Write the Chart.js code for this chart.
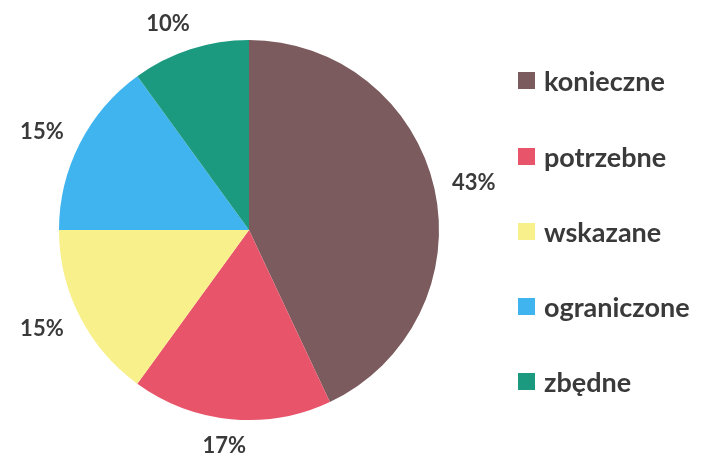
<!DOCTYPE html>
<html>
<head>
<meta charset="utf-8">
<script src="https://cdn.jsdelivr.net/npm/chart.js@4"></script>
<style>
  body { margin: 0; background: #fff; }
  #wrap { position: relative; width: 719px; height: 462px; }
  #legend { position: absolute; left: 518px; top: 0; font-family: Lato, "Open Sans", sans-serif; font-weight: bold; font-size: 27px; color: #3a3a3a; }
  .item { position: absolute; white-space: nowrap; display: flex; align-items: center; }
  .box { width: 17px; height: 17px; margin-right: 9px; }
</style>
</head>
<body>
<div id="wrap">
  <canvas id="chart" width="719" height="462"></canvas>
  <div id="legend"></div>
</div>
<script>
// categories and shares (%)
let categories = ["konieczne", "potrzebne", "wskazane", "ograniczone", "zbędne"];
let shares = [43, 17, 15, 15, 10];
let sliceColors = ["#7b5b5e", "#e8546a", "#f8f08a", "#3fb4ef", "#1c9a80"];

// Draw percent labels just outside each slice
const outsideLabels = {
    id: 'outsideLabels',
    afterDatasetsDraw(chart) {
        let ctx = chart.ctx;
        let meta = chart.getDatasetMeta(0);
        ctx.save();
        ctx.font = 'bold 22px Lato, "Open Sans", sans-serif';
        ctx.fillStyle = '#3a3a3a';
        ctx.textAlign = 'center';
        ctx.textBaseline = 'middle';
        meta.data.forEach(function (arc, i) {
            let mid = (arc.startAngle + arc.endAngle) / 2;
            let dx = Math.cos(mid), dy = Math.sin(mid);
            let text = shares[i] + '%';
            let w = ctx.measureText(text).width;
            let r = arc.outerRadius + 18;
            let x = arc.x + dx * r + Math.sign(dx) * (w / 2) * Math.min(1, Math.abs(dx) * 2.5);
            let y = arc.y + dy * r + dy * 9;
            ctx.fillText(text, x, y);
        });
        ctx.restore();
    }
};

let chart = new Chart(document.getElementById('chart'), {
    type: 'pie',
    data: {
        labels: categories,
        datasets: [{
            data: shares,
            backgroundColor: sliceColors,
            borderWidth: 0
        }]
    },
    options: {
        responsive: false,
        animation: false,
        layout: { padding: { top: 40, bottom: 42, left: 59, right: 280 } },
        plugins: {
            legend: { display: false },
            tooltip: { enabled: false }
        }
    },
    plugins: [outsideLabels]
});

// Legend built from the chart's own labels
let legendEl = document.getElementById('legend');
let rowY = [80, 156, 231, 306, 381];
chart.options.plugins.legend.labels.generateLabels(chart).forEach(function (item, i) {
    let row = document.createElement('div');
    row.className = 'item';
    row.style.top = (rowY[i] - 17) + 'px';
    row.style.height = '34px';
    row.innerHTML = '<span class="box" style="background:' + item.fillStyle + '"></span>' + item.text;
    legendEl.appendChild(row);
});
</script>
</body>
</html>
